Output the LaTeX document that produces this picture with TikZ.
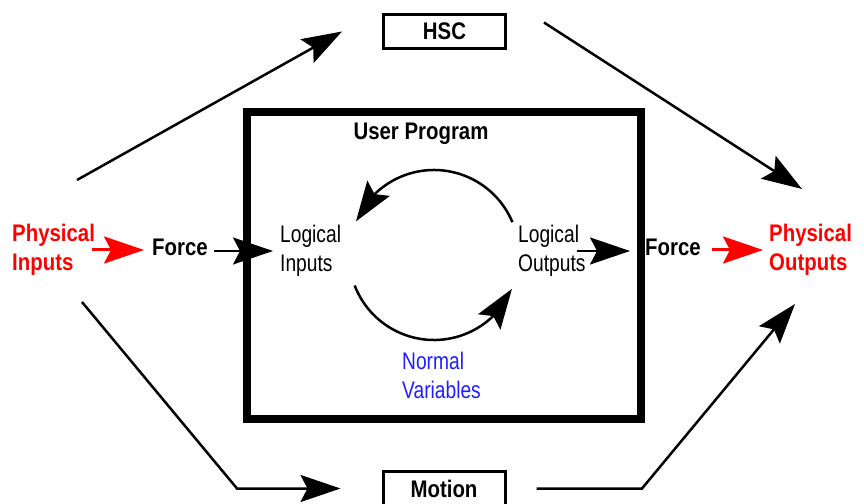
\documentclass[tikz,border=0pt]{standalone}
\usepackage{fontspec}
\setmainfont{Liberation Sans}[FakeStretch=0.8, BoldFeatures={FakeStretch=0.85}]
\usepackage{tikz}
\usetikzlibrary{arrows.meta, positioning, calc, bending}
\definecolor{phred}{RGB}{255,0,0}
\definecolor{varblue}{RGB}{30,30,255}

\begin{document}
\begin{tikzpicture}[x=10pt, y=10pt,
  every node/.style={font=\fontsize{24}{29}\selectfont, inner sep=0pt},
  phys/.style={text=phred, font=\fontsize{24}{29}\selectfont\bfseries,
               align=left, anchor=west},
  logic/.style={align=left, anchor=west},
  forcetxt/.style={font=\fontsize{24}{29}\selectfont\bfseries},
  title/.style={font=\fontsize{24}{29}\selectfont\bfseries},
  module/.style={rectangle, draw, line width=3pt, minimum width=122pt,
                 minimum height=34pt, font=\fontsize{24}{29}\selectfont\bfseries},
  frame/.style={rectangle, draw, line width=8pt},
  flow/.style={line width=2.5pt, -{Stealth[length=40pt, width=27pt, inset=7pt]}},
  redflow/.style={flow, draw=phred, line width=3pt},
]
\useasboundingbox (0,0) rectangle (86.4,50.3);

% ── User program frame ──
\node[frame, minimum width=394pt, minimum height=307pt] (prog) at (44.4,23.75) {};
\node[title] (uprog) at (42.1,36.9) {User Program};

% ── Modules ──
\node[module] (hsc) at (44.45,47.15) {HSC};
\node[module] (mot) at (44.4,1.45) {Motion};

% ── Signal chain ──
\node[phys]     (pin)  at (1.2,25.3)  {Physical\\Inputs};
\node[forcetxt] (fin)  at (18.0,25.6) {Force};
\node[logic]    (lin)  at (28.0,25.2) {Logical\\Inputs};
\node[logic]    (lout) at (51.8,25.2) {Logical\\Outputs};
\node[forcetxt] (fout) at (67.3,25.6) {Force};
\node[phys]     (pout) at (76.9,25.3) {Physical\\Outputs};
\node[logic, text=varblue] (nvar) at (40.2,12.8) {Normal\\Variables};

\draw[redflow] ([xshift=-3pt]pin.east) -- ([xshift=-8pt]pin.east -| fin.west);
\draw[flow] ([xshift=6pt]lin.west -| fin.east) -- ([xshift=-7pt]lin.west);
\draw[flow] ([xshift=-9pt]lout.east) -- ([xshift=-15pt]lout.east -| fout.west);
\draw[redflow] ([xshift=11pt]pout.west -| fout.east) -- ([xshift=-6pt]pout.west);

% ── Scan loop ──
\coordinate (loop) at (43.4,24.8);
\draw[flow] ([shift={(22.7:8.5)}]loop) arc[start angle=22.7, end angle=156.7, radius=8.5];
\draw[flow] ([shift={(201:8.5)}]loop) arc[start angle=201, end angle=336.5, radius=8.5];

% ── HSC path ──
\coordinate (tl) at (7.7,32.3);
\coordinate (tr) at (80.2,31.4);
\draw[flow] (tl) -- ([xshift=-40pt]hsc.west);
\draw[flow] ([shift={(37pt,9pt)}]hsc.east) -- (tr);

% ── Motion path ──
\coordinate (bl)  at (8.2,20.1);
\coordinate (blk) at (23.7,1.45);
\coordinate (brk) at (64.2,1.45);
\coordinate (br)  at (79.5,19.9);
\draw[flow] (bl) -- (blk) -- ([xshift=-41pt]mot.west);
\draw[flow] ([xshift=30pt]mot.east) -- (brk) -- (br);

\end{tikzpicture}
\end{document}
